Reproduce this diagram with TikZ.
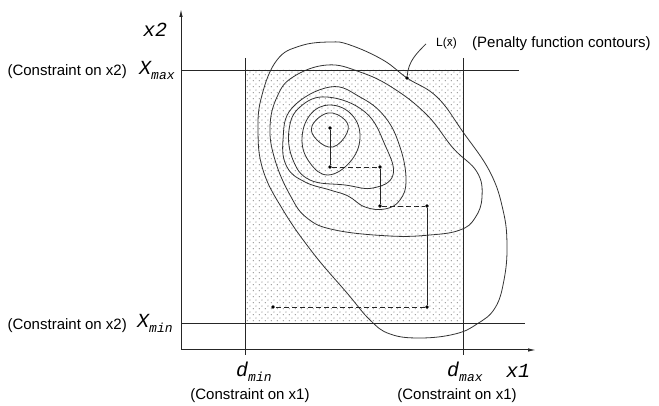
\documentclass[tikz,border=0pt]{standalone}
\usepackage{fontspec}
\setmainfont{Liberation Sans}
\newfontfamily\axfont{Liberation Mono}
\usetikzlibrary{positioning, arrows.meta, patterns}

\pgfdeclarepatternformonly{stipple}{\pgfqpoint{0pt}{0pt}}{\pgfqpoint{5.6pt}{5.6pt}}{\pgfqpoint{5.6pt}{5.6pt}}{%
  \pgfpathcircle{\pgfqpoint{1.4pt}{1.4pt}}{0.7pt}%
  \pgfpathcircle{\pgfqpoint{4.2pt}{4.2pt}}{0.7pt}%
  \pgfusepath{fill}}

\newcommand{\axvar}[2]{{\axfont\itshape\fontsize{20}{22}\selectfont #1}%
  {\axfont\itshape\fontsize{13}{14}\selectfont\raisebox{-5pt}{#2}}}

\begin{document}
\begin{tikzpicture}[
  x=1pt, y=1pt,
  font=\fontsize{15}{17}\selectfont,
  axis/.style={-{Latex[length=8pt,width=3.5pt]}, line width=1pt, draw=black!85},
  bound/.style={line width=0.9pt, draw=black!85},
  cont/.style={line width=0.8pt, draw=black!80},
  srch/.style={line width=0.8pt, draw=black!85},
  sdash/.style={line width=0.8pt, draw=black!85, dash pattern=on 5pt off 3pt},
  dotpt/.style={circle, fill=black, inner sep=0pt, minimum size=3.6pt},
  note/.style={inner sep=0pt},
  var/.style={inner sep=0pt}
]
\useasboundingbox (0,0) rectangle (659,406);

% ================= FEASIBLE BOX =================
\fill[pattern=stipple, pattern color=black!40] (245,83) rectangle (463,336);

% ================= CONTOURS =================
\draw[cont] plot[smooth cycle, tension=0.7] coordinates {
  (300,360) (330,364) (350,361) (383,346) (407,328) (437,309) (463,274)
  (490,234) (503,196) (507,161) (504,126) (495,98) (477,82) (455,72)
  (420,68) (390,72) (370,86) (347,113) (313,153) (283,196) (263,236)
  (258,276) (262,311) (277,346)};
\draw[cont] plot[smooth cycle, tension=0.7] coordinates {
  (327,341) (360,334) (393,318) (427,291) (453,258) (477,234) (482,209)
  (475,188) (460,176) (430,171) (390,170) (335,176) (307,188) (290,211)
  (275,246) (270,279) (277,309) (293,329)};
\draw[cont] plot[smooth cycle, tension=0.7] coordinates {
  (330,319) (360,309) (385,289) (400,259) (406,226) (400,206) (385,197)
  (365,199) (348,210) (330,216) (305,224) (287,239) (283,266) (292,298)};
\draw[cont] plot[smooth cycle, tension=0.7] coordinates {
  (327,309) (365,294) (385,261) (393,231) (373,218) (345,221) (310,226)
  (293,246) (289,276) (300,299)};
\draw[cont] plot[smooth cycle, tension=0.7] coordinates {
  (330,301) (352,291) (360,268) (350,244) (328,231) (310,243) (302,266)
  (310,291)};
\draw[cont] plot[smooth cycle, tension=0.7] coordinates {
  (328,293) (345,286) (347,273) (333,259) (317,266) (312,280)};

% ================= AXES AND CONSTRAINTS =================
\coordinate (o) at (181,56);
\coordinate (xend) at (536,56);
\coordinate (yend) at (181,397);
\draw[axis] (o) -- (xend);
\draw[axis] (o) -- (yend);
\draw[bound] (181,336) -- (519,336);
\draw[bound] (181,83) -- (525,83);
\draw[bound] (245,348) -- (245,51);
\draw[bound] (463,348) -- (463,51);

% ================= SEARCH PATH =================
\node[dotpt] (p0) at (330,278) {};
\node[dotpt] (p1) at (330,239) {};
\node[dotpt] (p2) at (380,239) {};
\node[dotpt] (p3) at (380,200) {};
\node[dotpt] (p4) at (427,200) {};
\node[dotpt] (p5) at (427,99) {};
\node[dotpt] (p6) at (273,99) {};
\draw[srch] (p0) -- (p1);
\draw[sdash] (p1) -- (p2);
\draw[srch] (p2) -- (p3);
\draw[sdash] (p3) -- (p4);
\draw[srch] (p4) -- (p5);
\draw[sdash] (p5) -- (p6);

% ================= LABELS =================
\node[var, anchor=base west] (x2lbl) at (143,369) {\axvar{x2}{}};
\node[var, anchor=base west] (x1lbl) at (506,28) {\axvar{x1}{}};
\node[var, anchor=base west] (xmax) at (139,331) {\axvar{X}{max}};
\node[var, anchor=base west] (xmin) at (137,78) {\axvar{X}{min}};
\node[var, anchor=base west] (dmin) at (236,29) {\axvar{d}{min}};
\node[var, anchor=base west] (dmax) at (447,29) {\axvar{d}{max}};
\node[note, anchor=base east] (cx2top) at (127,330) {(Constraint on x2)};
\node[note, anchor=base east] (cx2bot) at (127,76) {(Constraint on x2)};
\node[note, anchor=base] (cx1left) at (250,6) {(Constraint on x1)};
\node[note, anchor=base] (cx1right) at (457,6) {(Constraint on x1)};

\node[dotpt] (lpt) at (407,328) {};
\node[note, anchor=base west, font=\fontsize{12}{14}\selectfont] (llbl) at (436,359) {L(\={x})};
\node[note, anchor=base west] (pen) at (472,358) {(Penalty function contours)};
\draw[cont] ([xshift=-10pt]llbl.west) to[out=225, in=85] (lpt);
\end{tikzpicture}
\end{document}
